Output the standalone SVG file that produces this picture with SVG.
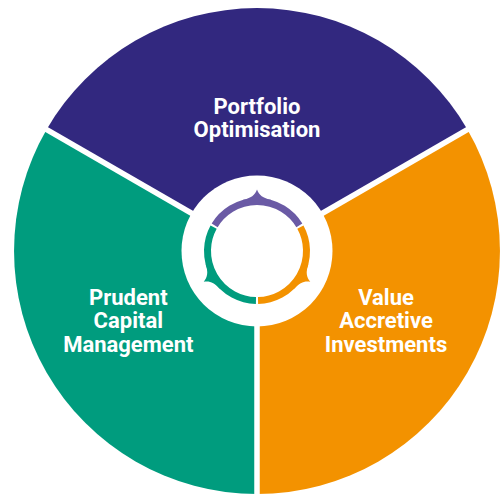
<svg xmlns="http://www.w3.org/2000/svg" width="502" height="494" viewBox="0 0 502 494">
  <style>
    .label { font-family: Roboto, "Liberation Sans", sans-serif; font-weight: 700; font-size: 22px; fill: #ffffff; text-anchor: middle; }
    .divider { stroke: #ffffff; stroke-width: 5.5; fill: none; }
    .ring { fill: none; stroke-width: 7; }
  </style>
  <defs>
    <!-- pointer bump sitting on the outer edge of the hub ring, drawn facing up -->
    <path id="bump" d="M -14,-51.2 C -6,-52.6 -2,-56 0,-61.5 C 2,-56 6,-52.6 14,-51.2 L 11,-47 L -11,-47 Z"/>
  </defs>

  <rect width="502" height="494" fill="#ffffff"/>

  <g id="portfolio-optimisation">
    <path d="M 257,251 L 46.6,129.5 A 243,243 0 0 1 467.4,129.5 Z" fill="#32287f"/>
    <text class="label" x="257" y="114">Portfolio</text>
    <text class="label" x="257" y="137">Optimisation</text>
  </g>

  <g id="value-accretive-investments">
    <path d="M 257,251 L 467.4,129.5 A 243,243 0 0 1 257,494 Z" fill="#f39200"/>
    <text class="label" x="386" y="305">Value</text>
    <text class="label" x="386" y="328.3">Accretive</text>
    <text class="label" x="386" y="351.7">Investments</text>
  </g>

  <g id="prudent-capital-management">
    <path d="M 257,251 L 257,494 A 243,243 0 0 1 46.6,129.5 Z" fill="#009c7e"/>
    <text class="label" x="128.3" y="305">Prudent</text>
    <text class="label" x="128.3" y="328.3">Capital</text>
    <text class="label" x="128.3" y="351.7">Management</text>
  </g>

  <g id="connectors">
    <line class="divider" x1="257" y1="251" x2="257" y2="500"/>
    <line class="divider" x1="257" y1="251" x2="35" y2="122.8"/>
    <line class="divider" x1="257" y1="251" x2="479" y2="122.8"/>
  </g>

  <g id="hub">
    <circle cx="257" cy="251" r="75.5" fill="#ffffff"/>
    <path class="ring" stroke="#6a5aa5" d="M 214.66,225.36 A 49.5,49.5 0 0 1 299.34,225.36"/>
    <path class="ring" stroke="#f39200" d="M 300.38,227.15 A 49.5,49.5 0 0 1 258.04,300.49"/>
    <path class="ring" stroke="#009c7e" d="M 255.96,300.49 A 49.5,49.5 0 0 1 213.62,227.15"/>
    <use href="#bump" fill="#6a5aa5" transform="translate(257 251)"/>
    <use href="#bump" fill="#f39200" transform="translate(257 251) rotate(120)"/>
    <use href="#bump" fill="#009c7e" transform="translate(257 251) rotate(240)"/>
  </g>
</svg>
